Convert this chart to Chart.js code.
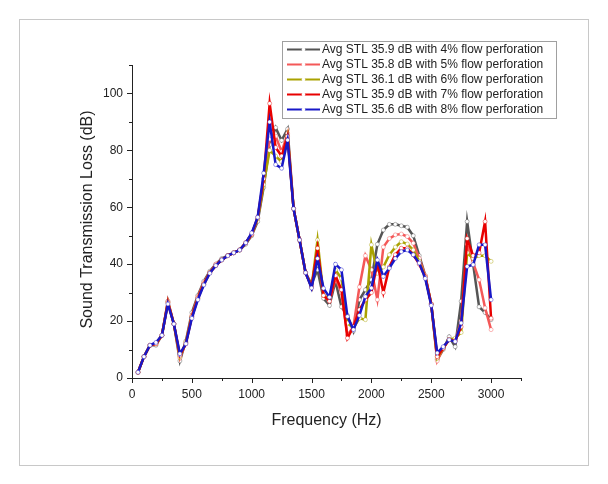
<!DOCTYPE html>
<html lang="en">
<head>
<meta charset="UTF-8" />
<title>Sound Transmission Loss vs Frequency</title>
<script src="https://cdn.jsdelivr.net/npm/chart.js"></script>
<style>
  html, body { margin: 0; padding: 0; background: #fff; }
  canvas { display: block; }
</style>
</head>
<body>
<canvas id="stlChart" width="608" height="484"></canvas>
<script>
// frequency points (Hz)
const freq = [50, 100, 150, 200, 250, 300, 350, 400, 450, 500,
  550, 600, 650, 700, 750, 800, 850, 900, 950, 1000,
  1050, 1100, 1150, 1200, 1250, 1300, 1350, 1400, 1450, 1500,
  1550, 1600, 1650, 1700, 1750, 1800, 1850, 1900, 1950, 2000,
  2050, 2100, 2150, 2200, 2250, 2300, 2350, 2400, 2450, 2500,
  2550, 2600, 2650, 2700, 2750, 2800, 2850, 2900, 2950, 3000];

// STL (dB) per perforation ratio
const stl4 = [2, 7.5, 11.5, 11.5, 15, 27, 19, 6, 13, 23,
  29, 34, 37.5, 40, 42, 43, 44, 45, 47, 50,
  55, 67, 82, 88, 83.5, 87.5, 59.5, 48.5, 37, 33,
  38, 28, 25.5, 34, 25, 22, 16.5, 27.5, 31, 34.5,
  47, 52, 54, 54, 53.5, 53, 50, 43, 36, 26,
  6.5, 10, 14.5, 11, 27, 55, 40, 25, 23, 20.5];
const stl5 = [2, 7.5, 11.5, 12, 15, 27, 19, 7, 12.5, 22,
  28.5, 33.5, 37, 40, 41.5, 43, 44, 45, 47.5, 50.5,
  56, 69, 84, 85, 79.5, 86, 59.5, 48.5, 37, 32,
  45, 29, 27, 35, 30, 15, 18, 32, 43, 38,
  27.5, 46, 49, 50.3, 50.6, 49.7, 47.4, 42, 36, 26,
  6, 10.5, 13.5, 13, 20, 47, 40.5, 34.5, 24.6, 17];
const stl6 = [2, 7.5, 11.5, 12, 15, 26.5, 19, 7.5, 12.5, 21.5,
  28, 33, 37, 39.5, 41.5, 43, 44, 45, 47.5, 50.5,
  56, 68, 80, 78, 76, 85, 59.5, 48.5, 37, 32,
  48.5, 29, 28, 38, 35, 19.3, 17.5, 21, 20.5, 46.8,
  36.8, 39, 43.3, 46, 47.9, 47.1, 45, 41, 35.5, 26,
  7, 10.5, 13.5, 14, 16, 44, 42, 43, 43, 41];
const stl7 = [2, 7.5, 11.5, 12, 15, 26.5, 19, 8, 12, 21.5,
  28, 33, 37, 39.5, 41.5, 43, 44, 45, 47.5, 50.5,
  56.5, 70, 96.5, 81, 78, 85, 59.5, 48.5, 37, 32,
  45.6, 29, 27, 36, 31, 14, 18, 24, 27.5, 30,
  40.5, 30, 39, 43.3, 45.6, 45.6, 43.3, 40, 35.5, 26,
  7.5, 10.5, 13.5, 13, 18, 49, 43, 44, 55, 21];
const stl8 = [2, 7.5, 11.5, 12.5, 15, 26, 19, 8.5, 12, 21,
  27.5, 32.7, 36.8, 39.5, 41.5, 43, 44, 45, 47.5, 51,
  56.5, 72, 90, 75, 73.7, 83.6, 59.5, 48.5, 37, 31.6,
  42, 31.5, 28.4, 40, 38, 21.6, 17, 22, 28.6, 31.6,
  41.5, 35.7, 38.6, 42, 44.4, 45, 43.3, 40.4, 35, 25.5,
  8.8, 11, 13.4, 12.8, 19.3, 39.2, 39.8, 46.8, 46.8, 27.5];

const seriesLabels = [
  'Avg STL 35.9 dB with 4% flow perforation',
  'Avg STL 35.8 dB with 5% flow perforation',
  'Avg STL 36.1 dB with 6% flow perforation',
  'Avg STL 35.9 dB with 7% flow perforation',
  'Avg STL 35.6 dB with 8% flow perforation'
];
const seriesColors = ['#555555', '#f45858', '#aaa200', '#e80000', '#1818c8'];
const seriesValues = [stl4, stl5, stl6, stl7, stl8];

const xLabelTicks = [0, 500, 1000, 1500, 2000, 2500, 3000];
const yLabelTicks = [0, 20, 40, 60, 80, 100];

const FONT = '"Liberation Sans", Arial, sans-serif';

const datasets = seriesValues.map((vals, i) => ({
  label: seriesLabels[i],
  data: freq.map((f, j) => ({ x: f, y: vals[j] })),
  borderColor: seriesColors[i],
  borderWidth: 2.5,
  pointRadius: 2,
  pointBackgroundColor: '#ffffff',
  pointBorderColor: seriesColors[i] + '88',
  pointBorderWidth: 0.8,
  tension: 0,
  order: 5 - i   // blue ends up on top
}));

const extras = {
  id: 'extras',
  afterDraw(chart) {
    const ctx = chart.ctx;
    const xs = chart.scales.x, ys = chart.scales.y;
    const area = chart.chartArea;
    ctx.save();

    // outer frame
    ctx.strokeStyle = '#c8c8c8';
    ctx.lineWidth = 1;
    ctx.strokeRect(19.5, 19.5, 569, 446);

    // tick marks (outward)
    ctx.strokeStyle = '#222';
    ctx.beginPath();
    xs.ticks.forEach(t => {
      const px = Math.round(xs.getPixelForValue(t.value)) + 0.5;
      const len = xLabelTicks.includes(t.value) ? 5 : 3;
      ctx.moveTo(px, area.bottom);
      ctx.lineTo(px, area.bottom + len);
    });
    ys.ticks.forEach(t => {
      const py = Math.round(ys.getPixelForValue(t.value)) + 0.5;
      const len = yLabelTicks.includes(t.value) ? 5 : 3;
      ctx.moveTo(area.left, py);
      ctx.lineTo(area.left - len, py);
    });
    ctx.stroke();

    // axis titles
    ctx.fillStyle = '#222';
    ctx.font = '16px ' + FONT;
    ctx.textAlign = 'center';
    ctx.textBaseline = 'middle';
    ctx.fillText('Frequency (Hz)', (area.left + area.right) / 2, 421);
    ctx.save();
    ctx.translate(88, (area.top + area.bottom) / 2 - 2);
    ctx.rotate(-Math.PI / 2);
    ctx.fillText('Sound Transmission Loss (dB)', 0, 0);
    ctx.restore();

    // legend
    ctx.fillStyle = '#fff';
    ctx.fillRect(282, 41, 274, 77);
    ctx.strokeStyle = '#a0a0a0';
    ctx.strokeRect(282.5, 41.5, 274, 77);
    ctx.font = '12px ' + FONT;
    ctx.textAlign = 'left';
    seriesLabels.forEach((lab, i) => {
      const y = 49.5 + i * 15;
      ctx.strokeStyle = seriesColors[i];
      ctx.lineWidth = 2;
      ctx.beginPath();
      ctx.moveTo(287, y);
      ctx.lineTo(320, y);
      ctx.stroke();
      ctx.fillStyle = '#fff';
      ctx.beginPath();
      ctx.arc(303.5, y, 1.8, 0, Math.PI * 2);
      ctx.fill();
      ctx.fillStyle = '#222';
      ctx.fillText(lab, 322, y + 0.5);
    });
    ctx.restore();
  }
};

new Chart(document.getElementById('stlChart'), {
  type: 'line',
  data: { datasets: datasets },
  options: {
    responsive: false,
    animation: false,
    devicePixelRatio: 1,
    layout: { padding: { top: 65, right: 87, left: 0, bottom: 0 } },
    plugins: { legend: { display: false }, tooltip: { enabled: false } },
    scales: {
      x: {
        type: 'linear',
        min: 0,
        max: 3250,
        afterFit: s => { s.height = 106; },
        grid: { display: false, drawTicks: false },
        border: { display: true, color: '#222', width: 1 },
        ticks: {
          stepSize: 250,
          autoSkip: false,
          maxRotation: 0,
          padding: 9,
          color: '#222',
          font: { size: 12, family: FONT },
          callback: v => xLabelTicks.includes(v) ? String(v) : ''
        }
      },
      y: {
        min: 0,
        max: 110,
        afterFit: s => { s.width = 132; },
        grid: { display: false, drawTicks: false },
        border: { display: true, color: '#222', width: 1 },
        ticks: {
          stepSize: 10,
          autoSkip: false,
          padding: 9,
          color: '#222',
          font: { size: 12, family: FONT },
          callback: v => yLabelTicks.includes(v) ? String(v) : ''
        }
      }
    }
  },
  plugins: [extras]
});
</script>
</body>
</html>
